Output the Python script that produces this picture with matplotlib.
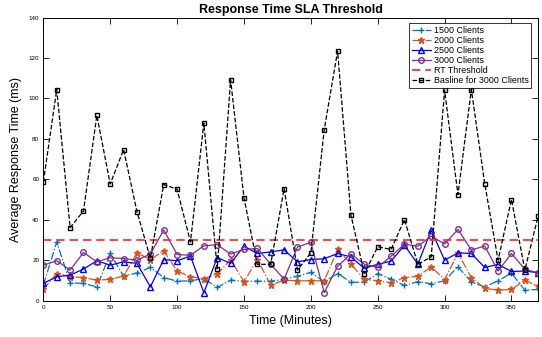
import numpy as np
import matplotlib
matplotlib.use('Agg')
import matplotlib.pyplot as plt

plt.rcParams['font.family'] = ['Liberation Sans', 'DejaVu Sans']

minutes = list(range(0, 371, 10))

c1500 = [7.7, 29, 8.8, 8.5, 6.8, 23.3, 12.1, 13.7, 16.4, 11.4,
         9.6, 9.8, 10.9, 6.5, 10.1, 9.6, 9.6, 9.6, 10.5, 12.1,
         13.9, 9.3, 13.4, 9.1, 9.1, 13.4, 10.6, 7.5, 9.4, 8.3,
         9.8, 16.8, 9.2, 6.8, 9.8, 13.6, 5.2, 5.5]
c2000 = [5.6, 13.4, 11.8, 11.4, 10.1, 10.5, 12.1, 23.6, 20.3, 24.6,
         14.6, 11.8, 10.9, 13.1, 20.3, 9.3, 20.3, 7.7, 10.1, 9.8,
         9.8, 9.8, 25.3, 18, 10.5, 9.8, 8.8, 11.4, 12, 16.7,
         10.4, 23.5, 11.4, 6, 5.2, 5.5, 10.1, 7]
c2500 = [8.5, 11.8, 12.6, 15.6, 19.7, 17.5, 19.2, 18.4, 6.8, 20.3,
         19.7, 22, 3.9, 21.3, 18.4, 26.9, 23.3, 24.1, 25.1, 19.2,
         20.3, 20.7, 23.3, 21.6, 15.9, 18, 19.5, 27.4, 18, 34.8,
         20, 23.6, 23.3, 16.4, 17.9, 14.4, 14.6, 13.8]
c3000 = [17.5, 19.7, 15.1, 23.8, 19.2, 21.2, 20.8, 20, 23, 35,
         22.8, 22.4, 27.1, 27.7, 23, 25.3, 25.8, 18, 10.6, 26.5,
         28.8, 3.9, 17, 23, 18, 16.4, 22, 27.9, 26.9, 31.9,
         28, 35.2, 25, 27, 14.6, 23.3, 15.5, 13.7]
baseline = [58.7, 104.4, 36.1, 44.3, 91.6, 57.7, 74.7, 44, 21, 57.4,
            55.1, 29, 87.8, 15.7, 109.2, 50.8, 17.9, 18, 55.4, 15.1,
            23.6, 84.5, 123.4, 42.2, 13.4, 26.6, 25.3, 40.1, 18, 21.6,
            104, 52.4, 104.4, 57.9, 20, 50, 15.1, 41.9]
rt_threshold = 30

fig = plt.figure(figsize=(5.42, 3.37), dpi=100)
ax = fig.add_axes([0.080, 0.108, 0.913, 0.840])

ms = 4
ax.plot(minutes, c1500, '-.', color='#0072BD', marker='+', ms=5, lw=0.9, label='1500 Clients')
ax.plot(minutes, c2000, '-.', color='#D95319', marker='*', ms=5, lw=0.9, label='2000 Clients')
ax.plot(minutes, c2500, '-', color='#0000FF', marker='^', ms=ms, mfc='none', lw=0.9, label='2500 Clients')
ax.plot(minutes, c3000, '-', color='#7E2F8E', marker='o', ms=ms, mfc='none', lw=0.9, label='3000 Clients')
ax.axhline(rt_threshold, ls=(0, (5, 3)), color='#FF2020', lw=1.2, label='RT Threshold')
ax.plot(minutes, baseline, '--', color='black', marker='s', ms=3.5, mfc='none', lw=0.9,
        label='Basline for 3000 Clients')

ax.set_xlim(0, 370)
ax.set_ylim(0, 140)
ax.set_xticks(range(0, 351, 50))
ax.set_yticks(range(0, 141, 20))
ax.tick_params(direction='in', top=True, right=True, labelsize=4.5, length=4, width=0.6, pad=3)
for s in ax.spines.values():
    s.set_linewidth(0.7)

ax.set_title('Response Time SLA Threshold', fontsize=9, fontweight='bold', pad=3)
ax.set_xlabel('Time (Minutes)', fontsize=9, labelpad=4)
ax.set_ylabel('Average Response Time (ms)', fontsize=9, labelpad=5)

leg = ax.legend(loc='upper right', bbox_to_anchor=(0.986, 0.980), borderaxespad=0,
                fontsize=6.4, frameon=True, fancybox=False,
                edgecolor='black', handlelength=2.2, handletextpad=0.3,
                labelspacing=0.12, borderpad=0.3)
leg.get_frame().set_linewidth(0.7)

fig.savefig('out.png', dpi=100)
